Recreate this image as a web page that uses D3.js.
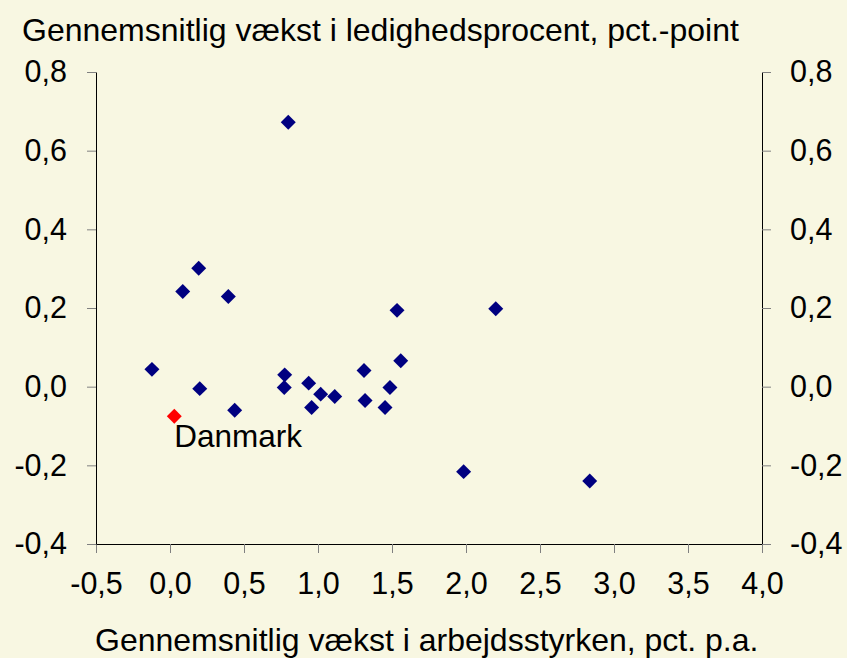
<!DOCTYPE html>
<html>
<head>
<meta charset="utf-8">
<script src="https://cdn.jsdelivr.net/npm/d3@7"></script>
<style>
  body { margin: 0; background: #F8F7E2; }
  svg { display: block; font-family: "Liberation Sans", Arial, sans-serif; }
</style>
</head>
<body>
<div id="chart"></div>
<script>
// labour force growth (x) vs. unemployment rate growth (y)
var xValues = [0.799, 0.194, 0.086, 0.394, 1.534, 2.201, 1.559, -0.122, 1.311, 0.775, 0.937, 0.772,
               0.201, 1.486, 1.018, 1.113, 1.318, 0.957, 1.453, 0.437, 1.984, 2.836];
var yValues = [0.672, 0.301, 0.242, 0.229, 0.194, 0.198, 0.066, 0.044, 0.041, 0.030, 0.009, -0.002,
               -0.005, -0.002, -0.019, -0.025, -0.035, -0.053, -0.053, -0.060, -0.216, -0.240];
var dkName = "Danmark";
var dkX = 0.029;
var dkY = -0.075;

var xTicks = [-0.5, 0, 0.5, 1, 1.5, 2, 2.5, 3, 3.5, 4];
var yTicks = [-0.4, -0.2, 0, 0.2, 0.4, 0.6, 0.8];

var yTitle = "Gennemsnitlig vækst i ledighedsprocent, pct.-point";
var xTitle = "Gennemsnitlig vækst i arbejdsstyrken, pct. p.a.";

var svgWidth = 847;
var svgHeight = 658;

var margin = { top: 72, right: 85, bottom: 114, left: 96 };
var width = svgWidth - margin.left - margin.right;
var height = svgHeight - margin.top - margin.bottom;

var svg = d3.select("#chart")
    .append("svg")
    .attr("width", svgWidth)
    .attr("height", svgHeight);

svg.append("rect")
    .attr("width", svgWidth)
    .attr("height", svgHeight)
    .attr("fill", "#F8F7E2");

var chartGroup = svg.append("g")
    .attr("transform", `translate(${margin.left}, ${margin.top})`);

var xScale = d3.scaleLinear().domain([-0.5, 4]).range([0, width]);
var yScale = d3.scaleLinear().domain([-0.4, 0.8]).range([height, 0]);

// comma decimals, plain hyphen for negatives
var fmt = d => d3.format(".1f")(d).replace("−", "-").replace(".", ",");

var xAxis = d3.axisBottom(xScale).tickValues(xTicks).tickFormat(fmt)
    .tickSize(9).tickSizeOuter(0).tickPadding(19);
var yAxisL = d3.axisLeft(yScale).tickValues(yTicks).tickFormat(fmt)
    .tickSize(9).tickSizeOuter(0).tickPadding(20);
var yAxisR = d3.axisRight(yScale).tickValues(yTicks).tickFormat(fmt)
    .tickSize(9).tickSizeOuter(0).tickPadding(19);

function styleAxis(g) {
  g.attr("font-family", null).attr("font-size", null);
  g.select(".domain").attr("stroke", "#000");
  g.selectAll(".tick line").attr("stroke", "#808080");
  g.selectAll(".tick text").attr("fill", "#000").style("font-size", "30.5px");
}

chartGroup.append("g").attr("transform", `translate(0, ${height})`).call(xAxis).call(styleAxis);
chartGroup.append("g").call(yAxisL).call(styleAxis);
chartGroup.append("g").attr("transform", `translate(${width}, 0)`).call(yAxisR).call(styleAxis);

var diamond = d3.symbol().type(d3.symbolSquare).size(112);

chartGroup.append("g")
    .selectAll("path")
    .data(xValues)
    .enter()
    .append("path")
    .attr("d", diamond)
    .attr("transform", (d, i) => `translate(${xScale(d)}, ${yScale(yValues[i])}) rotate(45)`)
    .attr("fill", "#000080");

chartGroup.append("path")
    .attr("d", diamond)
    .attr("transform", `translate(${xScale(dkX)}, ${yScale(dkY)}) rotate(45)`)
    .attr("fill", "#FF0000");

chartGroup.append("text")
    .attr("x", xScale(dkX))
    .attr("y", yScale(dkY) + 31)
    .style("font-size", "31.5px")
    .text(dkName);

// titles
svg.append("text")
    .attr("x", 22)
    .attr("y", 41)
    .style("font-size", "32px")
    .text(yTitle);

svg.append("text")
    .attr("x", 95)
    .attr("y", 651)
    .style("font-size", "32px")
    .text(xTitle);
</script>
</body>
</html>
